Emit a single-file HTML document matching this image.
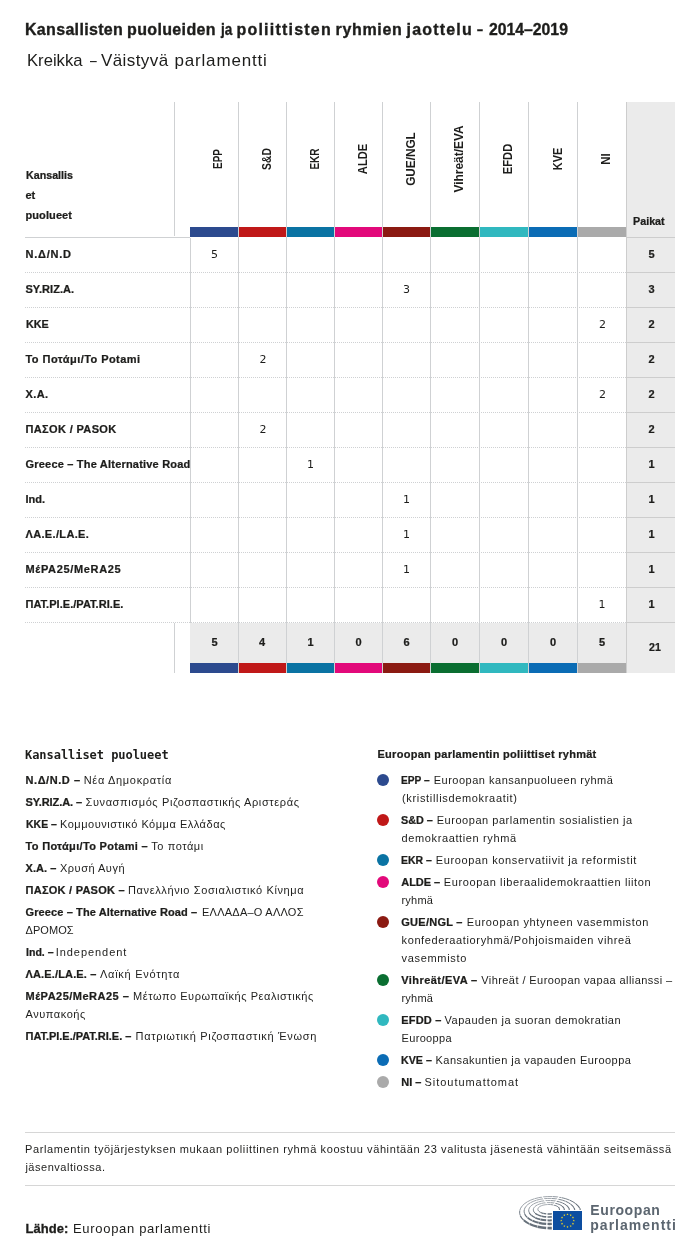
<!DOCTYPE html>
<html lang="fi">
<head>
<meta charset="utf-8">
<title>Kansallisten puolueiden ja poliittisten ryhmien jaottelu – 2014–2019</title>
<style>
html,body{margin:0;padding:0;background:#fff;}
body{width:700px;height:1253px;position:relative;overflow:hidden;color:#1d1d1b;
 font-family:"Liberation Sans","DejaVu Sans",sans-serif;will-change:transform;}
.a{position:absolute;white-space:nowrap;}
.ln{position:absolute;background:#cfd1d3;}
.bar{position:absolute;height:10px;}
.dot{position:absolute;left:25px;width:165px;height:1px;
 background:repeating-linear-gradient(90deg,#cfd1d3 0 1px,transparent 1px 2px);}
.dotr{position:absolute;left:191px;width:435px;height:1px;
 background:repeating-linear-gradient(90deg,#cfd1d3 0 1px,transparent 1px 2px);}
.rot{position:absolute;width:0;height:0;}
.rot span{position:absolute;left:0;top:0;white-space:nowrap;font-weight:bold;font-size:12px;line-height:12px;
 transform:translate(-50%,-50%) rotate(-90deg);}
.c{position:absolute;left:377px;width:12px;height:12px;border-radius:50%;}
</style>
</head>
<body>

<span class="a" style="left:25.00px;top:17.00px;font-size:16px;line-height:26px;letter-spacing:0.320px;font-weight:bold;-webkit-text-stroke:0.35px;">Kansallisten</span>
<span class="a" style="left:127.00px;top:17.00px;font-size:16px;line-height:26px;letter-spacing:0.361px;font-weight:bold;-webkit-text-stroke:0.35px;">puolueiden</span>
<span class="a" style="left:220.64px;top:17.00px;font-size:16px;line-height:26px;font-weight:bold;-webkit-text-stroke:0.35px;transform:scaleX(0.8446);transform-origin:0 0;">ja</span>
<span class="a" style="left:236.40px;top:17.00px;font-size:16px;line-height:26px;letter-spacing:1.226px;font-weight:bold;-webkit-text-stroke:0.35px;">poliittisten</span>
<span class="a" style="left:335.50px;top:17.00px;font-size:16px;line-height:26px;letter-spacing:0.672px;font-weight:bold;-webkit-text-stroke:0.35px;">ryhmien</span>
<span class="a" style="left:406.60px;top:17.00px;font-size:16px;line-height:26px;letter-spacing:1.183px;font-weight:bold;-webkit-text-stroke:0.35px;">jaottelu</span>
<span class="a" style="left:476.50px;top:17.00px;font-size:16px;line-height:26px;font-weight:bold;-webkit-text-stroke:0.35px;transform:scaleX(0.6667);transform-origin:0 0;">–</span>
<span class="a" style="left:488.50px;top:17.00px;font-size:16px;line-height:26px;font-weight:bold;-webkit-text-stroke:0.35px;transform:scaleX(0.9852);transform-origin:0 0;">2014–2019</span>
<span class="a" style="left:27.12px;top:47.00px;font-size:17px;line-height:27px;transform:scaleX(0.9799);transform-origin:0 0;">Kreikka</span>
<span class="a" style="left:89.90px;top:47.00px;font-size:17px;line-height:27px;transform:scaleX(0.7100);transform-origin:0 0;">–</span>
<span class="a" style="left:101.00px;top:47.00px;font-size:17px;line-height:27px;letter-spacing:0.415px;">Väistyvä</span>
<span class="a" style="left:174.40px;top:47.00px;font-size:17px;line-height:27px;letter-spacing:0.838px;">parlamentti</span>
<div style="position:absolute;left:626px;top:102px;width:49px;height:571px;background:#ebebeb"></div>
<div style="position:absolute;left:190px;top:623px;width:436px;height:40px;background:#ebebeb"></div>
<div class="ln" style="left:174px;top:102px;width:1px;height:134px"></div>
<div class="ln" style="left:174px;top:623px;width:1px;height:50px"></div>
<div class="ln" style="left:190px;top:238px;width:1px;height:385px"></div>
<div class="ln" style="left:238px;top:102px;width:1px;height:571px"></div>
<div class="ln" style="left:286px;top:102px;width:1px;height:571px"></div>
<div class="ln" style="left:334px;top:102px;width:1px;height:571px"></div>
<div class="ln" style="left:382px;top:102px;width:1px;height:571px"></div>
<div class="ln" style="left:430px;top:102px;width:1px;height:571px"></div>
<div class="ln" style="left:479px;top:102px;width:1px;height:571px"></div>
<div class="ln" style="left:528px;top:102px;width:1px;height:571px"></div>
<div class="ln" style="left:577px;top:102px;width:1px;height:571px"></div>
<div class="ln" style="left:626px;top:102px;width:1px;height:571px;background:#cdcdcd"></div>
<div class="ln" style="left:25px;top:237px;width:165px;height:1px"></div>
<div class="ln" style="left:626px;top:237px;width:49px;height:1px;background:#cdcdcd"></div>
<span class="a" style="left:25.50px;top:166.00px;font-size:11px;line-height:18px;font-weight:bold;-webkit-text-stroke:0.24px;transform:scaleX(0.9713);transform-origin:0 0;">Kansallis</span>
<span class="a" style="left:25.50px;top:186.00px;font-size:11px;line-height:18px;font-weight:bold;-webkit-text-stroke:0.24px;">et</span>
<span class="a" style="left:25.50px;top:206.00px;font-size:11px;line-height:18px;letter-spacing:0.090px;font-weight:bold;-webkit-text-stroke:0.24px;">puolueet</span>
<span class="a" style="left:632.50px;top:212.00px;font-size:11px;line-height:18px;font-weight:bold;-webkit-text-stroke:0.24px;transform:scaleX(0.9772);transform-origin:0 0;">Paikat</span>
<div class="bar" style="left:190px;top:227px;width:48px;background:#2c4a8e"></div>
<div class="bar" style="left:190px;top:663px;width:48px;background:#2c4a8e"></div>
<div class="rot" style="left:218.04px;top:159.30px"><span style="transform:translate(-50%,-50%) rotate(-90deg) scaleX(0.8247)">EPP</span></div>
<div class="bar" style="left:239px;top:227px;width:47px;background:#c01818"></div>
<div class="bar" style="left:239px;top:663px;width:47px;background:#c01818"></div>
<div class="rot" style="left:266.94px;top:159.44px"><span style="transform:translate(-50%,-50%) rotate(-90deg) scaleX(0.8609)">S&amp;D</span></div>
<div class="bar" style="left:287px;top:227px;width:47px;background:#0a73a3"></div>
<div class="bar" style="left:287px;top:663px;width:47px;background:#0a73a3"></div>
<div class="rot" style="left:315.14px;top:159.44px"><span style="transform:translate(-50%,-50%) rotate(-90deg) scaleX(0.8337)">EKR</span></div>
<div class="bar" style="left:335px;top:227px;width:47px;background:#e2097a"></div>
<div class="bar" style="left:335px;top:663px;width:47px;background:#e2097a"></div>
<div class="rot" style="left:363.24px;top:159.30px"><span style="transform:translate(-50%,-50%) rotate(-90deg) scaleX(0.9277)">ALDE</span></div>
<div class="bar" style="left:383px;top:227px;width:47px;background:#8b1a12"></div>
<div class="bar" style="left:383px;top:663px;width:47px;background:#8b1a12"></div>
<div class="rot" style="left:410.94px;top:159.14px"><span style="transform:translate(-50%,-50%) rotate(-90deg) scaleX(0.9809)">GUE/NGL</span></div>
<div class="bar" style="left:431px;top:227px;width:48px;background:#0a6e31"></div>
<div class="bar" style="left:431px;top:663px;width:48px;background:#0a6e31"></div>
<div class="rot" style="left:459.14px;top:159.47px"><span style="transform:translate(-50%,-50%) rotate(-90deg) scaleX(0.9939)">Vihreät/EVA</span></div>
<div class="bar" style="left:480px;top:227px;width:48px;background:#30b8bf"></div>
<div class="bar" style="left:480px;top:663px;width:48px;background:#30b8bf"></div>
<div class="rot" style="left:508.44px;top:159.46px"><span style="transform:translate(-50%,-50%) rotate(-90deg) scaleX(0.9303)">EFDD</span></div>
<div class="bar" style="left:529px;top:227px;width:48px;background:#0b6cb5"></div>
<div class="bar" style="left:529px;top:663px;width:48px;background:#0b6cb5"></div>
<div class="rot" style="left:557.74px;top:159.30px"><span style="transform:translate(-50%,-50%) rotate(-90deg) scaleX(0.9120)">KVE</span></div>
<div class="bar" style="left:578px;top:227px;width:48px;background:#aaaaaa"></div>
<div class="bar" style="left:578px;top:663px;width:48px;background:#aaaaaa"></div>
<div class="rot" style="left:606.14px;top:159.14px"><span style="transform:translate(-50%,-50%) rotate(-90deg) scaleX(0.9515)">NI</span></div>
<span class="a" style="left:25.50px;top:245.00px;font-size:11px;line-height:18px;letter-spacing:0.773px;font-weight:bold;-webkit-text-stroke:0.24px;">N.Δ/N.D</span>
<span class="a" style="left:211.00px;top:246.00px;font-size:11px;line-height:18px;font-family:'DejaVu Sans',sans-serif;">5</span>
<span class="a" style="left:648.50px;top:245.00px;font-size:11px;line-height:18px;font-weight:bold;-webkit-text-stroke:0.24px;">5</span>
<div class="dot" style="top:272px"></div><div class="dotr" style="top:272px"></div>
<div class="ln" style="left:626px;top:272px;width:49px;height:1px;background:#cdcdcd"></div>
<span class="a" style="left:25.50px;top:280.00px;font-size:11px;line-height:18px;letter-spacing:0.034px;font-weight:bold;-webkit-text-stroke:0.24px;">SY.RIZ.A.</span>
<span class="a" style="left:403.00px;top:281.00px;font-size:11px;line-height:18px;font-family:'DejaVu Sans',sans-serif;">3</span>
<span class="a" style="left:648.50px;top:280.00px;font-size:11px;line-height:18px;font-weight:bold;-webkit-text-stroke:0.24px;">3</span>
<div class="dot" style="top:307px"></div><div class="dotr" style="top:307px"></div>
<div class="ln" style="left:626px;top:307px;width:49px;height:1px;background:#cdcdcd"></div>
<span class="a" style="left:25.50px;top:315.00px;font-size:11px;line-height:18px;font-weight:bold;-webkit-text-stroke:0.24px;transform:scaleX(0.9831);transform-origin:0 0;">KKE</span>
<span class="a" style="left:599.00px;top:316.00px;font-size:11px;line-height:18px;font-family:'DejaVu Sans',sans-serif;">2</span>
<span class="a" style="left:648.50px;top:315.00px;font-size:11px;line-height:18px;font-weight:bold;-webkit-text-stroke:0.24px;">2</span>
<div class="dot" style="top:342px"></div><div class="dotr" style="top:342px"></div>
<div class="ln" style="left:626px;top:342px;width:49px;height:1px;background:#cdcdcd"></div>
<span class="a" style="left:25.50px;top:350.00px;font-size:11px;line-height:18px;letter-spacing:0.442px;font-weight:bold;-webkit-text-stroke:0.24px;">Το Ποτάμι/To Potami</span>
<span class="a" style="left:259.50px;top:351.00px;font-size:11px;line-height:18px;font-family:'DejaVu Sans',sans-serif;">2</span>
<span class="a" style="left:648.50px;top:350.00px;font-size:11px;line-height:18px;font-weight:bold;-webkit-text-stroke:0.24px;">2</span>
<div class="dot" style="top:377px"></div><div class="dotr" style="top:377px"></div>
<div class="ln" style="left:626px;top:377px;width:49px;height:1px;background:#cdcdcd"></div>
<span class="a" style="left:25.50px;top:385.00px;font-size:11px;line-height:18px;letter-spacing:0.388px;font-weight:bold;-webkit-text-stroke:0.24px;">Χ.Α.</span>
<span class="a" style="left:599.00px;top:386.00px;font-size:11px;line-height:18px;font-family:'DejaVu Sans',sans-serif;">2</span>
<span class="a" style="left:648.50px;top:385.00px;font-size:11px;line-height:18px;font-weight:bold;-webkit-text-stroke:0.24px;">2</span>
<div class="dot" style="top:412px"></div><div class="dotr" style="top:412px"></div>
<div class="ln" style="left:626px;top:412px;width:49px;height:1px;background:#cdcdcd"></div>
<span class="a" style="left:25.50px;top:420.00px;font-size:11px;line-height:18px;letter-spacing:0.353px;font-weight:bold;-webkit-text-stroke:0.24px;">ΠΑΣΟΚ / PASOK</span>
<span class="a" style="left:259.50px;top:421.00px;font-size:11px;line-height:18px;font-family:'DejaVu Sans',sans-serif;">2</span>
<span class="a" style="left:648.50px;top:420.00px;font-size:11px;line-height:18px;font-weight:bold;-webkit-text-stroke:0.24px;">2</span>
<div class="dot" style="top:447px"></div><div class="dotr" style="top:447px"></div>
<div class="ln" style="left:626px;top:447px;width:49px;height:1px;background:#cdcdcd"></div>
<span class="a" style="left:25.50px;top:455.00px;font-size:11px;line-height:18px;letter-spacing:0.202px;font-weight:bold;-webkit-text-stroke:0.24px;">Greece – The Alternative Road</span>
<span class="a" style="left:307.00px;top:456.00px;font-size:11px;line-height:18px;font-family:'DejaVu Sans',sans-serif;">1</span>
<span class="a" style="left:648.50px;top:455.00px;font-size:11px;line-height:18px;font-weight:bold;-webkit-text-stroke:0.24px;">1</span>
<div class="dot" style="top:482px"></div><div class="dotr" style="top:482px"></div>
<div class="ln" style="left:626px;top:482px;width:49px;height:1px;background:#cdcdcd"></div>
<span class="a" style="left:25.50px;top:490.00px;font-size:11px;line-height:18px;font-weight:bold;-webkit-text-stroke:0.24px;">Ind.</span>
<span class="a" style="left:403.00px;top:491.00px;font-size:11px;line-height:18px;font-family:'DejaVu Sans',sans-serif;">1</span>
<span class="a" style="left:648.50px;top:490.00px;font-size:11px;line-height:18px;font-weight:bold;-webkit-text-stroke:0.24px;">1</span>
<div class="dot" style="top:517px"></div><div class="dotr" style="top:517px"></div>
<div class="ln" style="left:626px;top:517px;width:49px;height:1px;background:#cdcdcd"></div>
<span class="a" style="left:25.50px;top:525.00px;font-size:11px;line-height:18px;letter-spacing:0.341px;font-weight:bold;-webkit-text-stroke:0.24px;">ΛΑ.Ε./LA.E.</span>
<span class="a" style="left:403.00px;top:526.00px;font-size:11px;line-height:18px;font-family:'DejaVu Sans',sans-serif;">1</span>
<span class="a" style="left:648.50px;top:525.00px;font-size:11px;line-height:18px;font-weight:bold;-webkit-text-stroke:0.24px;">1</span>
<div class="dot" style="top:552px"></div><div class="dotr" style="top:552px"></div>
<div class="ln" style="left:626px;top:552px;width:49px;height:1px;background:#cdcdcd"></div>
<span class="a" style="left:25.50px;top:560.00px;font-size:11px;line-height:18px;letter-spacing:0.653px;font-weight:bold;-webkit-text-stroke:0.24px;">ΜέΡΑ25/MeRA25</span>
<span class="a" style="left:403.00px;top:561.00px;font-size:11px;line-height:18px;font-family:'DejaVu Sans',sans-serif;">1</span>
<span class="a" style="left:648.50px;top:560.00px;font-size:11px;line-height:18px;font-weight:bold;-webkit-text-stroke:0.24px;">1</span>
<div class="dot" style="top:587px"></div><div class="dotr" style="top:587px"></div>
<div class="ln" style="left:626px;top:587px;width:49px;height:1px;background:#cdcdcd"></div>
<span class="a" style="left:25.50px;top:595.00px;font-size:11px;line-height:18px;letter-spacing:0.040px;font-weight:bold;-webkit-text-stroke:0.24px;">ΠΑΤ.ΡΙ.Ε./PAT.RI.E.</span>
<span class="a" style="left:598.50px;top:596.00px;font-size:11px;line-height:18px;font-family:'DejaVu Sans',sans-serif;">1</span>
<span class="a" style="left:648.50px;top:595.00px;font-size:11px;line-height:18px;font-weight:bold;-webkit-text-stroke:0.24px;">1</span>
<div class="dot" style="top:622px"></div><div class="dotr" style="top:622px"></div>
<div class="ln" style="left:626px;top:622px;width:49px;height:1px;background:#cdcdcd"></div>
<span class="a" style="left:211.50px;top:633.00px;font-size:11px;line-height:18px;font-weight:bold;-webkit-text-stroke:0.24px;">5</span>
<span class="a" style="left:259.00px;top:633.00px;font-size:11px;line-height:18px;font-weight:bold;-webkit-text-stroke:0.24px;">4</span>
<span class="a" style="left:307.50px;top:633.00px;font-size:11px;line-height:18px;font-weight:bold;-webkit-text-stroke:0.24px;">1</span>
<span class="a" style="left:355.50px;top:633.00px;font-size:11px;line-height:18px;font-weight:bold;-webkit-text-stroke:0.24px;">0</span>
<span class="a" style="left:403.50px;top:633.00px;font-size:11px;line-height:18px;font-weight:bold;-webkit-text-stroke:0.24px;">6</span>
<span class="a" style="left:452.00px;top:633.00px;font-size:11px;line-height:18px;font-weight:bold;-webkit-text-stroke:0.24px;">0</span>
<span class="a" style="left:501.00px;top:633.00px;font-size:11px;line-height:18px;font-weight:bold;-webkit-text-stroke:0.24px;">0</span>
<span class="a" style="left:550.00px;top:633.00px;font-size:11px;line-height:18px;font-weight:bold;-webkit-text-stroke:0.24px;">0</span>
<span class="a" style="left:599.00px;top:633.00px;font-size:11px;line-height:18px;font-weight:bold;-webkit-text-stroke:0.24px;">5</span>
<span class="a" style="left:648.50px;top:638.00px;font-size:11px;line-height:18px;font-weight:bold;-webkit-text-stroke:0.24px;transform:scaleX(0.9655);transform-origin:0 0;">21</span>
<span class="a" style="left:25.00px;top:746.00px;font-size:12px;line-height:19px;letter-spacing:-0.046px;font-weight:bold;-webkit-text-stroke:0.26px;font-family:'DejaVu Sans Mono',monospace;-webkit-text-stroke:0;">Kansalliset puolueet</span>
<span class="a" style="left:25.50px;top:771.00px;font-size:11px;line-height:18px;letter-spacing:0.567px;font-weight:bold;-webkit-text-stroke:0.24px;">N.Δ/N.D –</span>
<span class="a" style="left:83.75px;top:771.00px;font-size:11px;line-height:18px;letter-spacing:0.666px;">Νέα Δημοκρατία</span>
<span class="a" style="left:25.50px;top:793.00px;font-size:11px;line-height:18px;letter-spacing:-0.084px;font-weight:bold;-webkit-text-stroke:0.24px;">SY.RIZ.A. –</span>
<span class="a" style="left:85.50px;top:793.00px;font-size:11px;line-height:18px;letter-spacing:0.612px;">Συνασπισμός Ριζοσπαστικής Αριστεράς</span>
<span class="a" style="left:25.50px;top:815.00px;font-size:11px;line-height:18px;font-weight:bold;-webkit-text-stroke:0.24px;transform:scaleX(0.9526);transform-origin:0 0;">KKE –</span>
<span class="a" style="left:60.00px;top:815.00px;font-size:11px;line-height:18px;letter-spacing:0.515px;">Κομμουνιστικό Κόμμα Ελλάδας</span>
<span class="a" style="left:25.50px;top:837.00px;font-size:11px;line-height:18px;letter-spacing:0.317px;font-weight:bold;-webkit-text-stroke:0.24px;">Το Ποτάμι/To Potami –</span>
<span class="a" style="left:151.25px;top:837.00px;font-size:11px;line-height:18px;letter-spacing:0.567px;">Το ποτάμι</span>
<span class="a" style="left:25.50px;top:859.00px;font-size:11px;line-height:18px;letter-spacing:0.060px;font-weight:bold;-webkit-text-stroke:0.24px;">Χ.Α. –</span>
<span class="a" style="left:60.00px;top:859.00px;font-size:11px;line-height:18px;letter-spacing:0.508px;">Χρυσή Αυγή</span>
<span class="a" style="left:25.50px;top:881.00px;font-size:11px;line-height:18px;letter-spacing:0.249px;font-weight:bold;-webkit-text-stroke:0.24px;">ΠΑΣΟΚ / PASOK –</span>
<span class="a" style="left:128.00px;top:881.00px;font-size:11px;line-height:18px;letter-spacing:0.621px;">Πανελλήνιο Σοσιαλιστικό Κίνημα</span>
<span class="a" style="left:25.50px;top:903.00px;font-size:11px;line-height:18px;letter-spacing:0.113px;font-weight:bold;-webkit-text-stroke:0.24px;">Greece – The Alternative Road –</span>
<span class="a" style="left:202.00px;top:903.00px;font-size:11px;line-height:18px;letter-spacing:0.239px;">ΕΛΛΑΔΑ–Ο ΑΛΛΟΣ</span>
<span class="a" style="left:25.50px;top:921.00px;font-size:11px;line-height:18px;letter-spacing:0.058px;">ΔΡΟΜΟΣ</span>
<span class="a" style="left:25.50px;top:943.00px;font-size:11px;line-height:18px;font-weight:bold;-webkit-text-stroke:0.24px;transform:scaleX(0.9613);transform-origin:0 0;">Ind. –</span>
<span class="a" style="left:55.75px;top:943.00px;font-size:11px;line-height:18px;letter-spacing:0.938px;">Independent</span>
<span class="a" style="left:25.50px;top:965.00px;font-size:11px;line-height:18px;letter-spacing:0.150px;font-weight:bold;-webkit-text-stroke:0.24px;">ΛΑ.Ε./LA.E. –</span>
<span class="a" style="left:100.00px;top:965.00px;font-size:11px;line-height:18px;letter-spacing:0.727px;">Λαϊκή Ενότητα</span>
<span class="a" style="left:25.50px;top:987.00px;font-size:11px;line-height:18px;letter-spacing:0.493px;font-weight:bold;-webkit-text-stroke:0.24px;">ΜέΡΑ25/MeRA25 –</span>
<span class="a" style="left:133.00px;top:987.00px;font-size:11px;line-height:18px;letter-spacing:0.561px;">Μέτωπο Ευρωπαϊκής Ρεαλιστικής</span>
<span class="a" style="left:25.50px;top:1005.00px;font-size:11px;line-height:18px;letter-spacing:0.557px;">Ανυπακοής</span>
<span class="a" style="left:25.50px;top:1027.00px;font-size:11px;line-height:18px;letter-spacing:-0.020px;font-weight:bold;-webkit-text-stroke:0.24px;">ΠΑΤ.ΡΙ.Ε./PAT.RI.E. –</span>
<span class="a" style="left:135.50px;top:1027.00px;font-size:11px;line-height:18px;letter-spacing:0.684px;">Πατριωτική Ριζοσπαστική Ένωση</span>
<span class="a" style="left:377.50px;top:745.00px;font-size:11px;line-height:18px;letter-spacing:0.272px;font-weight:bold;-webkit-text-stroke:0.24px;">Euroopan parlamentin poliittiset ryhmät</span>
<div class="c" style="top:774.00px;background:#2c4a8e"></div>
<span class="a" style="left:401.30px;top:771.00px;font-size:11px;line-height:18px;font-weight:bold;-webkit-text-stroke:0.24px;transform:scaleX(0.9238);transform-origin:0 0;">EPP –</span>
<span class="a" style="left:433.75px;top:771.00px;font-size:11px;line-height:18px;letter-spacing:0.500px;">Euroopan kansanpuolueen ryhmä</span>
<span class="a" style="left:402.00px;top:789.00px;font-size:11px;line-height:18px;letter-spacing:0.667px;">(kristillisdemokraatit)</span>
<div class="c" style="top:814.00px;background:#c01818"></div>
<span class="a" style="left:401.30px;top:811.00px;font-size:11px;line-height:18px;font-weight:bold;-webkit-text-stroke:0.24px;transform:scaleX(0.9820);transform-origin:0 0;">S&amp;D –</span>
<span class="a" style="left:436.75px;top:811.00px;font-size:11px;line-height:18px;letter-spacing:0.533px;">Euroopan parlamentin sosialistien ja</span>
<span class="a" style="left:401.50px;top:829.00px;font-size:11px;line-height:18px;letter-spacing:0.627px;">demokraattien ryhmä</span>
<div class="c" style="top:854.00px;background:#0a73a3"></div>
<span class="a" style="left:401.30px;top:851.00px;font-size:11px;line-height:18px;font-weight:bold;-webkit-text-stroke:0.24px;transform:scaleX(0.9510);transform-origin:0 0;">EKR –</span>
<span class="a" style="left:435.75px;top:851.00px;font-size:11px;line-height:18px;letter-spacing:0.629px;">Euroopan konservatiivit ja reformistit</span>
<div class="c" style="top:876.00px;background:#e2097a"></div>
<span class="a" style="left:401.30px;top:873.00px;font-size:11px;line-height:18px;letter-spacing:-0.060px;font-weight:bold;-webkit-text-stroke:0.24px;">ALDE –</span>
<span class="a" style="left:443.75px;top:873.00px;font-size:11px;line-height:18px;letter-spacing:0.617px;">Euroopan liberaalidemokraattien liiton</span>
<span class="a" style="left:401.50px;top:891.00px;font-size:11px;line-height:18px;letter-spacing:0.202px;">ryhmä</span>
<div class="c" style="top:916.00px;background:#8b1a12"></div>
<span class="a" style="left:401.30px;top:913.00px;font-size:11px;line-height:18px;letter-spacing:0.254px;font-weight:bold;-webkit-text-stroke:0.24px;">GUE/NGL –</span>
<span class="a" style="left:466.75px;top:913.00px;font-size:11px;line-height:18px;letter-spacing:0.656px;">Euroopan yhtyneen vasemmiston</span>
<span class="a" style="left:401.50px;top:931.00px;font-size:11px;line-height:18px;letter-spacing:0.629px;">konfederaatioryhmä/Pohjoismaiden vihreä</span>
<span class="a" style="left:401.50px;top:949.00px;font-size:11px;line-height:18px;letter-spacing:0.688px;">vasemmisto</span>
<div class="c" style="top:974.00px;background:#0a6e31"></div>
<span class="a" style="left:401.30px;top:971.00px;font-size:11px;line-height:18px;letter-spacing:0.433px;font-weight:bold;-webkit-text-stroke:0.24px;">Vihreät/EVA –</span>
<span class="a" style="left:481.25px;top:971.00px;font-size:11px;line-height:18px;letter-spacing:0.427px;">Vihreät / Euroopan vapaa allianssi –</span>
<span class="a" style="left:401.50px;top:989.00px;font-size:11px;line-height:18px;letter-spacing:0.202px;">ryhmä</span>
<div class="c" style="top:1014.00px;background:#30b8bf"></div>
<span class="a" style="left:401.30px;top:1011.00px;font-size:11px;line-height:18px;letter-spacing:0.190px;font-weight:bold;-webkit-text-stroke:0.24px;">EFDD –</span>
<span class="a" style="left:444.50px;top:1011.00px;font-size:11px;line-height:18px;letter-spacing:0.513px;">Vapauden ja suoran demokratian</span>
<span class="a" style="left:401.50px;top:1029.00px;font-size:11px;line-height:18px;letter-spacing:0.345px;">Eurooppa</span>
<div class="c" style="top:1054.00px;background:#0b6cb5"></div>
<span class="a" style="left:401.30px;top:1051.00px;font-size:11px;line-height:18px;font-weight:bold;-webkit-text-stroke:0.24px;transform:scaleX(0.9693);transform-origin:0 0;">KVE –</span>
<span class="a" style="left:435.50px;top:1051.00px;font-size:11px;line-height:18px;letter-spacing:0.467px;">Kansakuntien ja vapauden Eurooppa</span>
<div class="c" style="top:1076.00px;background:#aaaaaa"></div>
<span class="a" style="left:401.30px;top:1073.00px;font-size:11px;line-height:18px;letter-spacing:-0.035px;font-weight:bold;-webkit-text-stroke:0.24px;">NI –</span>
<span class="a" style="left:424.50px;top:1073.00px;font-size:11px;line-height:18px;letter-spacing:0.962px;">Sitoutumattomat</span>
<div class="ln" style="left:25px;top:1132px;width:650px;height:1px;background:#d6d6d6"></div>
<span class="a" style="left:25.10px;top:1140.00px;font-size:11px;line-height:18px;letter-spacing:0.614px;">Parlamentin työjärjestyksen mukaan poliittinen ryhmä koostuu vähintään 23 valitusta jäsenestä vähintään seitsemässä</span>
<span class="a" style="left:25.40px;top:1158.00px;font-size:11px;line-height:18px;letter-spacing:0.529px;">jäsenvaltiossa.</span>
<div class="ln" style="left:25px;top:1185px;width:650px;height:1px;background:#d6d6d6"></div>
<span class="a" style="left:25.40px;top:1218.00px;font-size:13px;line-height:21px;letter-spacing:0.063px;font-weight:bold;-webkit-text-stroke:0.29px;">Lähde:</span>
<span class="a" style="left:73.00px;top:1218.00px;font-size:13px;line-height:21px;letter-spacing:0.689px;">Euroopan parlamentti</span>
<svg style="position:absolute;left:515px;top:1190px" width="72" height="45" viewBox="515 1190 72 45">
<g fill="none" stroke="#66707a" stroke-linecap="butt">
<path d="M551.80 1228.08A30.55 15.8 0 0 1 547.50 1228.04" stroke-width="2.60"/>
<path d="M546.21 1227.97A30.55 15.8 0 0 1 537.53 1226.69" stroke-width="2.49"/>
<path d="M537.19 1226.61A30.55 15.8 0 0 1 529.67 1224.02" stroke-width="2.14"/>
<path d="M529.39 1223.89A30.55 15.8 0 0 1 523.74 1220.25" stroke-width="1.68"/>
<path d="M523.56 1220.08A30.55 15.8 0 0 1 520.32 1215.72" stroke-width="1.24"/>
<path d="M520.24 1215.53A30.55 15.8 0 0 1 519.73 1210.87" stroke-width="0.91"/>
<path d="M519.76 1210.67A30.55 15.8 0 0 1 522.01 1206.15" stroke-width="0.72"/>
<path d="M522.16 1205.97A30.55 15.8 0 0 1 526.96 1202.02" stroke-width="0.65"/>
<path d="M527.20 1201.87A30.55 15.8 0 0 1 534.10 1198.86" stroke-width="0.62"/>
<path d="M534.42 1198.76A30.55 15.8 0 0 1 542.76 1196.97" stroke-width="0.62"/>
<path d="M543.13 1196.92A30.55 15.8 0 0 1 552.12 1196.53" stroke-width="0.62"/>
<path d="M552.50 1196.55A30.55 15.8 0 0 1 561.30 1197.59" stroke-width="0.72"/>
<path d="M561.65 1197.66A30.55 15.8 0 0 1 569.42 1200.04" stroke-width="0.85"/>
<path d="M569.71 1200.16A30.55 15.8 0 0 1 575.72 1203.65" stroke-width="0.97"/>
<path d="M575.92 1203.81A30.55 15.8 0 0 1 579.59 1208.08" stroke-width="1.08"/>
<path d="M579.69 1208.27A30.55 15.8 0 0 1 580.35 1209.90" stroke-width="1.19"/>
<path d="M551.80 1223.95A25.4 12.8 0 0 1 547.51 1223.96" stroke-width="2.30"/>
<path d="M546.21 1223.89A25.4 12.8 0 0 1 538.99 1222.85" stroke-width="2.20"/>
<path d="M538.71 1222.79A25.4 12.8 0 0 1 532.46 1220.69" stroke-width="1.91"/>
<path d="M532.23 1220.59A25.4 12.8 0 0 1 527.54 1217.63" stroke-width="1.52"/>
<path d="M527.38 1217.50A25.4 12.8 0 0 1 524.70 1213.96" stroke-width="1.15"/>
<path d="M524.63 1213.81A25.4 12.8 0 0 1 524.21 1210.03" stroke-width="0.87"/>
<path d="M524.24 1209.88A25.4 12.8 0 0 1 526.11 1206.21" stroke-width="0.71"/>
<path d="M526.23 1206.07A25.4 12.8 0 0 1 530.23 1202.86" stroke-width="0.64"/>
<path d="M530.43 1202.75A25.4 12.8 0 0 1 536.17 1200.31" stroke-width="0.62"/>
<path d="M536.43 1200.22A25.4 12.8 0 0 1 543.37 1198.78" stroke-width="0.62"/>
<path d="M543.67 1198.74A25.4 12.8 0 0 1 551.16 1198.43" stroke-width="0.62"/>
<path d="M551.46 1198.44A25.4 12.8 0 0 1 558.78 1199.29" stroke-width="0.72"/>
<path d="M559.07 1199.34A25.4 12.8 0 0 1 565.53 1201.27" stroke-width="0.85"/>
<path d="M565.77 1201.37A25.4 12.8 0 0 1 570.76 1204.20" stroke-width="0.96"/>
<path d="M570.93 1204.33A25.4 12.8 0 0 1 573.98 1207.79" stroke-width="1.08"/>
<path d="M574.06 1207.94A25.4 12.8 0 0 1 574.77 1209.90" stroke-width="1.18"/>
<path d="M551.80 1220.31A20.35 9.95 0 0 1 547.51 1220.37" stroke-width="2.00"/>
<path d="M546.22 1220.30A20.35 9.95 0 0 1 540.45 1219.47" stroke-width="1.92"/>
<path d="M540.22 1219.42A20.35 9.95 0 0 1 535.25 1217.76" stroke-width="1.67"/>
<path d="M535.07 1217.68A20.35 9.95 0 0 1 531.36 1215.36" stroke-width="1.35"/>
<path d="M531.23 1215.26A20.35 9.95 0 0 1 529.14 1212.50" stroke-width="1.04"/>
<path d="M529.09 1212.38A20.35 9.95 0 0 1 528.80 1209.44" stroke-width="0.82"/>
<path d="M528.83 1209.32A20.35 9.95 0 0 1 530.39 1206.48" stroke-width="0.69"/>
<path d="M530.49 1206.37A20.35 9.95 0 0 1 533.74 1203.90" stroke-width="0.64"/>
<path d="M533.90 1203.81A20.35 9.95 0 0 1 538.54 1201.93" stroke-width="0.62"/>
<path d="M538.75 1201.87A20.35 9.95 0 0 1 544.33 1200.77" stroke-width="0.62"/>
<path d="M544.58 1200.74A20.35 9.95 0 0 1 550.58 1200.53" stroke-width="0.62"/>
<path d="M550.82 1200.54A20.35 9.95 0 0 1 556.67 1201.22" stroke-width="0.73"/>
<path d="M556.90 1201.27A20.35 9.95 0 0 1 562.05 1202.79" stroke-width="0.85"/>
<path d="M562.24 1202.87A20.35 9.95 0 0 1 566.19 1205.09" stroke-width="0.97"/>
<path d="M566.33 1205.19A20.35 9.95 0 0 1 568.72 1207.89" stroke-width="1.07"/>
<path d="M568.78 1208.01A20.35 9.95 0 0 1 569.37 1209.90" stroke-width="1.17"/>
<path d="M551.80 1216.86A15.5 7.2 0 0 1 547.52 1216.98" stroke-width="1.70"/>
<path d="M546.23 1216.90A15.5 7.2 0 0 1 541.87 1216.24" stroke-width="1.62"/>
<path d="M541.71 1216.20A15.5 7.2 0 0 1 537.99 1214.96" stroke-width="1.42"/>
<path d="M537.85 1214.90A15.5 7.2 0 0 1 535.12 1213.19" stroke-width="1.17"/>
<path d="M535.03 1213.11A15.5 7.2 0 0 1 533.55 1211.09" stroke-width="0.93"/>
<path d="M533.52 1211.01A15.5 7.2 0 0 1 533.43 1208.88" stroke-width="0.76"/>
<path d="M533.45 1208.79A15.5 7.2 0 0 1 534.76 1206.75" stroke-width="0.67"/>
<path d="M534.84 1206.67A15.5 7.2 0 0 1 537.42 1204.91" stroke-width="0.63"/>
<path d="M537.55 1204.85A15.5 7.2 0 0 1 541.15 1203.54" stroke-width="0.62"/>
<path d="M541.32 1203.49A15.5 7.2 0 0 1 545.61 1202.75" stroke-width="0.62"/>
<path d="M545.80 1202.74A15.5 7.2 0 0 1 550.38 1202.64" stroke-width="0.62"/>
<path d="M550.57 1202.65A15.5 7.2 0 0 1 554.99 1203.20" stroke-width="0.74"/>
<path d="M555.16 1203.23A15.5 7.2 0 0 1 559.02 1204.39" stroke-width="0.86"/>
<path d="M559.16 1204.44A15.5 7.2 0 0 1 562.08 1206.09" stroke-width="0.97"/>
<path d="M562.17 1206.16A15.5 7.2 0 0 1 563.88 1208.14" stroke-width="1.07"/>
<path d="M563.92 1208.22A15.5 7.2 0 0 1 564.30 1209.90" stroke-width="1.16"/>
<path d="M551.80 1213.80A10.8 4.75 0 0 1 547.55 1213.97" stroke-width="1.40"/>
<path d="M546.27 1213.88A10.8 4.75 0 0 1 543.30 1213.36" stroke-width="1.32"/>
<path d="M543.18 1213.33A10.8 4.75 0 0 1 540.71 1212.45" stroke-width="1.16"/>
<path d="M540.62 1212.40A10.8 4.75 0 0 1 538.88 1211.23" stroke-width="0.98"/>
<path d="M538.82 1211.17A10.8 4.75 0 0 1 537.98 1209.82" stroke-width="0.82"/>
<path d="M537.96 1209.76A10.8 4.75 0 0 1 538.09 1208.36" stroke-width="0.71"/>
<path d="M538.12 1208.30A10.8 4.75 0 0 1 539.21 1206.98" stroke-width="0.65"/>
<path d="M539.28 1206.93A10.8 4.75 0 0 1 541.23 1205.82" stroke-width="0.63"/>
<path d="M541.32 1205.78A10.8 4.75 0 0 1 543.95 1204.98" stroke-width="0.62"/>
<path d="M544.07 1204.96A10.8 4.75 0 0 1 547.13 1204.55" stroke-width="0.62"/>
<path d="M547.26 1204.54A10.8 4.75 0 0 1 550.45 1204.56" stroke-width="0.63"/>
<path d="M550.58 1204.57A10.8 4.75 0 0 1 553.61 1205.02" stroke-width="0.76"/>
<path d="M553.73 1205.05A10.8 4.75 0 0 1 556.30 1205.88" stroke-width="0.89"/>
<path d="M556.39 1205.92A10.8 4.75 0 0 1 558.27 1207.05" stroke-width="0.99"/>
<path d="M558.33 1207.10A10.8 4.75 0 0 1 559.34 1208.44" stroke-width="1.08"/>
<path d="M559.36 1208.49A10.8 4.75 0 0 1 559.40 1209.90" stroke-width="1.16"/>
</g>
<path d="M541.2 1195L547.4 1204.3M559.6 1195.6L553.4 1205.2" stroke="#fff" stroke-width="1.1" fill="none"/>
<rect x="552" y="1210" width="31" height="21" fill="#fff"/>
<rect x="553" y="1211" width="29" height="19" fill="#0d4ea0"/>
<g fill="#ffdc1a"><polygon points="567.50,1213.15 567.79,1213.90 568.59,1213.94 567.98,1214.45 568.18,1215.23 567.50,1214.80 566.82,1215.23 567.02,1214.45 566.41,1213.94 567.21,1213.90"/><polygon points="570.65,1213.99 570.94,1214.74 571.74,1214.79 571.13,1215.30 571.33,1216.07 570.65,1215.64 569.97,1216.07 570.17,1215.30 569.56,1214.79 570.36,1214.74"/><polygon points="572.96,1216.30 573.25,1217.05 574.05,1217.09 573.43,1217.60 573.63,1218.38 572.96,1217.95 572.28,1218.38 572.48,1217.60 571.86,1217.09 572.66,1217.05"/><polygon points="573.80,1219.45 574.09,1220.20 574.89,1220.24 574.28,1220.75 574.48,1221.53 573.80,1221.10 573.12,1221.53 573.32,1220.75 572.71,1220.24 573.51,1220.20"/><polygon points="572.96,1222.60 573.25,1223.35 574.05,1223.39 573.43,1223.90 573.63,1224.68 572.96,1224.25 572.28,1224.68 572.48,1223.90 571.86,1223.39 572.66,1223.35"/><polygon points="570.65,1224.91 570.94,1225.65 571.74,1225.70 571.13,1226.21 571.33,1226.99 570.65,1226.56 569.97,1226.99 570.17,1226.21 569.56,1225.70 570.36,1225.65"/><polygon points="567.50,1225.75 567.79,1226.50 568.59,1226.54 567.98,1227.05 568.18,1227.83 567.50,1227.40 566.82,1227.83 567.02,1227.05 566.41,1226.54 567.21,1226.50"/><polygon points="564.35,1224.91 564.64,1225.65 565.44,1225.70 564.83,1226.21 565.03,1226.99 564.35,1226.56 563.67,1226.99 563.87,1226.21 563.26,1225.70 564.06,1225.65"/><polygon points="562.04,1222.60 562.34,1223.35 563.14,1223.39 562.52,1223.90 562.72,1224.68 562.04,1224.25 561.37,1224.68 561.57,1223.90 560.95,1223.39 561.75,1223.35"/><polygon points="561.20,1219.45 561.49,1220.20 562.29,1220.24 561.68,1220.75 561.88,1221.53 561.20,1221.10 560.52,1221.53 560.72,1220.75 560.11,1220.24 560.91,1220.20"/><polygon points="562.04,1216.30 562.34,1217.05 563.14,1217.09 562.52,1217.60 562.72,1218.38 562.04,1217.95 561.37,1218.38 561.57,1217.60 560.95,1217.09 561.75,1217.05"/><polygon points="564.35,1213.99 564.64,1214.74 565.44,1214.79 564.83,1215.30 565.03,1216.07 564.35,1215.64 563.67,1216.07 563.87,1215.30 563.26,1214.79 564.06,1214.74"/></g>
</svg>
<span class="a" style="left:590.30px;top:1199.00px;font-size:14px;line-height:22px;letter-spacing:0.603px;font-weight:bold;-webkit-text-stroke:0.31px;color:#5c6670;-webkit-text-stroke:0;">Euroopan</span>
<span class="a" style="left:590.30px;top:1214.00px;font-size:14px;line-height:22px;letter-spacing:1.013px;font-weight:bold;-webkit-text-stroke:0.31px;color:#5c6670;-webkit-text-stroke:0;">parlamentti</span>
</body>
</html>
